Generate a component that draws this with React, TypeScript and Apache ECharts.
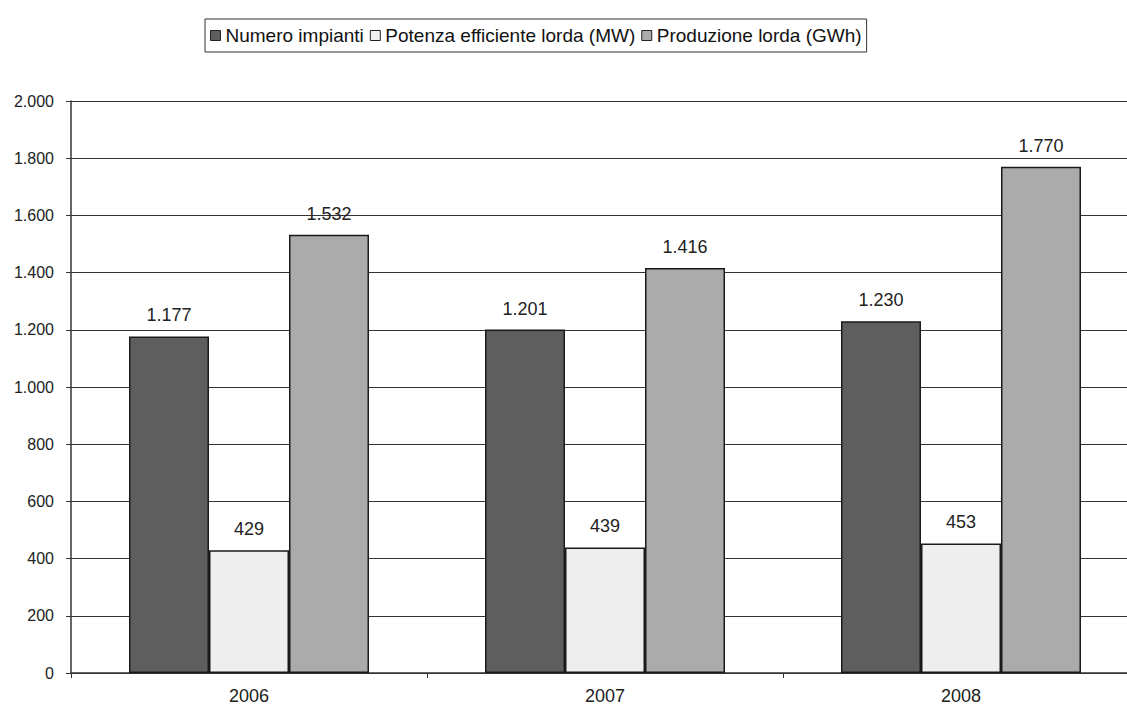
import React, { useEffect, useRef } from "react";
import * as echarts from "echarts";

const years = ["2006", "2007", "2008"];
const numeroImpianti = [1177, 1201, 1230];
const potenza = [429, 439, 453];
const produzione = [1532, 1416, 1770];
const seriesNames = ["Numero impianti", "Potenza efficiente lorda (MW)", "Produzione lorda (GWh)"];
const colors = ["#5e5e5e", "#eeeeee", "#ababab"];

const fmt = (v: number) => {
  const s = String(Math.round(v));
  return s.replace(/\B(?=(\d{3})+(?!\d))/g, ".");
};

export default function App() {
  const ref = useRef<HTMLDivElement>(null);
  useEffect(() => {
    if (!ref.current) return;
    const chart = echarts.init(ref.current, undefined, { renderer: "svg" });
    const font = "'Liberation Sans', Arial, sans-serif";
    const mk = (i: number, data: number[]) => ({
      name: seriesNames[i],
      type: "bar",
      data,
      barWidth: 80,
      barGap: "0%",
      itemStyle: { color: colors[i], borderColor: "#1a1a1a", borderWidth: 1.5 },
      label: {
        show: true,
        position: "top",
        distance: 12,
        fontSize: 18,
        fontFamily: font,
        color: "#222",
        formatter: (p: any) => fmt(p.value),
      },
    });
    chart.setOption({
      animation: false,
      backgroundColor: "#fff",
      legend: {
        left: 205,
        top: 19,
        itemWidth: 10,
        itemHeight: 10,
        itemGap: 6,
        icon: "rect",
        borderColor: "#333",
        borderWidth: 1,
        padding: [7, 5, 7, 5],
        textStyle: { fontSize: 19, fontFamily: font, color: "#111" },
        itemStyle: { borderColor: "#222", borderWidth: 1 },
        data: seriesNames,
      },
      grid: { left: 71, top: 101, width: 1068, height: 572, containLabel: false },
      xAxis: {
        type: "category",
        data: years,
        axisLine: { show: true, lineStyle: { color: "#333", width: 1.5 } },
        axisTick: { show: true, length: 5, alignWithLabel: false, lineStyle: { color: "#333" } },
        axisLabel: { fontSize: 18, fontFamily: font, color: "#222", margin: 14 },
      },
      yAxis: {
        type: "value",
        min: 0,
        max: 2000,
        interval: 200,
        axisLine: { show: true, lineStyle: { color: "#333", width: 1.5 } },
        axisTick: { show: true, length: 5, inside: false, lineStyle: { color: "#333" } },
        axisLabel: {
          fontSize: 16,
          fontFamily: font,
          color: "#222",
          margin: 17,
          formatter: (v: number) => fmt(v),
        },
        splitLine: { show: true, lineStyle: { color: "#333", width: 1.2 } },
      },
      series: [mk(0, numeroImpianti), mk(1, potenza), mk(2, produzione)],
    });
    return () => chart.dispose();
  }, []);
  return (
    <div style={{ width: 1127, height: 709, position: "absolute", left: 0, top: 0, overflow: "hidden" }}>
      <div ref={ref} style={{ width: 1160, height: 709, position: "absolute", left: 0, top: 0 }} />
    </div>
  );
}
